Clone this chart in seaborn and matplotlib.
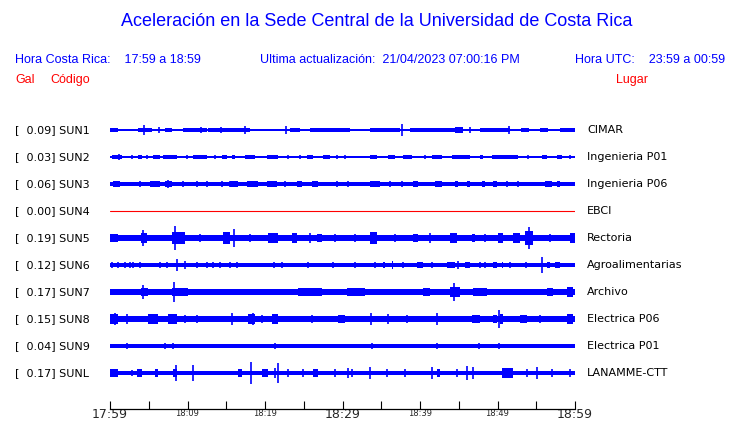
import matplotlib
matplotlib.use("Agg")
import matplotlib.pyplot as plt
import seaborn as sns

# station codes, places and peak acceleration (Gal) shown in the labels
STATIONS = ["SUN1", "SUN2", "SUN3", "SUN4", "SUN5", "SUN6", "SUN7", "SUN8", "SUN9", "SUNL"]
PLACES = ["CIMAR", "Ingenieria P01", "Ingenieria P06", "EBCI", "Rectoria",
          "Agroalimentarias", "Archivo", "Electrica P06", "Electrica P01", "LANAMME-CTT"]
PEAK_GAL = [0.09, 0.03, 0.06, 0.00, 0.19, 0.12, 0.17, 0.15, 0.04, 0.17]

# background noise level of each trace (Gal)
BASE_GAL = [0.016, 0.010, 0.032, 0.0, 0.052, 0.037, 0.040, 0.048, 0.030, 0.037]

# noisy stretches: (start minute, end minute, amplitude Gal)
SUN1_BURSTS = [(0.0, 1.0, 0.03), (3.6, 5.4, 0.035), (7.1, 8.0, 0.03), (9.4, 12.5, 0.03),
               (12.6, 16.8, 0.028), (16.8, 18.1, 0.035), (23.2, 24.5, 0.03), (25.8, 31.0, 0.028),
               (33.5, 37.4, 0.03), (38.7, 44.5, 0.028), (44.5, 45.5, 0.045), (47.7, 51.6, 0.025),
               (53.0, 54.0, 0.025), (55.5, 56.5, 0.025), (58.0, 60.0, 0.025)]
SUN2_BURSTS = [(0.3, 1.5, 0.028), (3.6, 4.1, 0.028), (5.5, 6.5, 0.028), (6.8, 8.6, 0.028),
               (10.7, 12.5, 0.028), (14.5, 15.1, 0.028), (15.7, 16.1, 0.028), (17.4, 18.7, 0.028),
               (20.3, 21.7, 0.028), (25.4, 26.2, 0.028), (27.5, 28.4, 0.028), (33.5, 34.5, 0.028),
               (35.9, 36.8, 0.028), (37.8, 39.0, 0.028), (41.5, 42.8, 0.028), (44.1, 46.5, 0.028),
               (47.7, 48.1, 0.028), (49.3, 52.6, 0.028), (55.7, 56.4, 0.028), (57.7, 58.3, 0.028)]
SUN3_BURSTS = [(0.4, 1.3, 0.045), (5.2, 6.5, 0.045), (7.1, 8.0, 0.045), (15.5, 16.5, 0.045),
               (17.7, 19.1, 0.045), (20.3, 21.5, 0.045), (24.1, 24.8, 0.045), (26.1, 26.8, 0.045),
               (33.5, 34.8, 0.045), (39.1, 39.7, 0.045), (41.9, 42.8, 0.05), (44.5, 44.9, 0.045),
               (46.1, 46.5, 0.045), (48.0, 48.4, 0.045), (49.4, 49.9, 0.045), (56.1, 57.0, 0.045),
               (57.7, 58.1, 0.045)]
SUN4_BURSTS = []
SUN5_BURSTS = [(0.0, 1.0, 0.065), (4.0, 4.8, 0.08), (8.0, 9.7, 0.095), (14.6, 15.5, 0.095),
               (20.4, 21.7, 0.08), (23.5, 24.1, 0.08), (26.7, 27.4, 0.07), (33.5, 34.5, 0.095),
               (39.1, 39.7, 0.07), (43.9, 44.8, 0.08), (46.7, 47.1, 0.065), (50.1, 50.7, 0.08),
               (52.0, 52.9, 0.08), (53.5, 54.6, 0.11), (59.4, 60.0, 0.08)]
SUN6_BURSTS = [(35.2, 35.5, 0.05), (36.4, 36.5, 0.06), (39.6, 40.4, 0.05), (43.5, 44.5, 0.05),
               (45.8, 46.5, 0.05), (49.4, 49.9, 0.05), (50.6, 50.7, 0.05), (56.4, 56.8, 0.05),
               (57.4, 58.1, 0.05)]
SUN7_BURSTS = [(0.0, 3.6, 0.05), (4.0, 4.9, 0.07), (5.8, 8.0, 0.055), (8.0, 10.1, 0.07),
               (11.9, 13.5, 0.055), (17.4, 20.9, 0.055), (24.3, 27.4, 0.06), (30.6, 32.9, 0.06),
               (33.5, 38.3, 0.055), (40.4, 41.3, 0.06), (42.2, 43.5, 0.055), (43.9, 45.2, 0.085),
               (46.8, 48.6, 0.06), (50.3, 52.5, 0.055), (56.4, 57.2, 0.06), (59.0, 59.7, 0.075)]
SUN8_BURSTS = [(0.0, 1.0, 0.08), (4.9, 6.2, 0.08), (7.5, 8.6, 0.085), (17.8, 18.7, 0.085),
               (20.9, 21.7, 0.08), (29.4, 30.3, 0.07), (46.7, 47.7, 0.07), (49.4, 49.9, 0.07),
               (50.3, 50.7, 0.08), (52.9, 53.8, 0.07), (59.0, 59.7, 0.08)]
SUN9_BURSTS = []
SUNL_BURSTS = [(0.0, 1.0, 0.06), (3.5, 4.1, 0.065), (5.8, 6.2, 0.07), (8.1, 8.6, 0.07),
               (16.5, 17.0, 0.065), (19.6, 20.4, 0.065), (26.2, 26.8, 0.07), (42.2, 42.6, 0.065),
               (50.6, 52.0, 0.08)]

# single spikes: (minute, amplitude Gal)
SUN1_SPIKES = [(4.4, 0.075), (6.3, 0.045), (11.7, 0.055), (14.3, 0.045), (17.4, 0.06),
               (22.7, 0.065), (37.7, 0.09), (45.3, 0.05), (46.5, 0.04), (51.5, 0.06)]
SUN2_SPIKES = [(1.2, 0.04), (2.8, 0.025), (4.8, 0.025), (9.9, 0.025), (13.5, 0.025),
               (23.0, 0.025), (24.5, 0.025), (29.3, 0.025), (30.3, 0.025), (40.6, 0.025),
               (53.9, 0.025), (59.4, 0.025)]
SUN3_SPIKES = [(3.9, 0.045), (9.4, 0.045), (11.2, 0.045), (12.5, 0.045), (14.5, 0.045),
               (22.6, 0.045), (29.3, 0.045), (30.7, 0.045), (36.1, 0.045), (37.7, 0.045),
               (51.2, 0.045), (52.6, 0.045), (7.5, 0.06), (20.9, 0.055), (15.5, 0.05),
               (49.7, 0.055), (42.6, 0.05)]
SUN4_SPIKES = []
SUN5_SPIKES = [(4.2, 0.13), (8.4, 0.19), (16.0, 0.14), (29.0, 0.065), (33.9, 0.10), (54.1, 0.18),
               (11.6, 0.07), (18.1, 0.07), (25.8, 0.075), (31.6, 0.07), (36.8, 0.07),
               (41.3, 0.075), (48.4, 0.07), (56.8, 0.07)]
SUN6_SPIKES = [(0.3, 0.05), (1.0, 0.05), (1.9, 0.05), (2.6, 0.05), (3.0, 0.05), (3.9, 0.05),
               (6.5, 0.05), (7.4, 0.05), (11.2, 0.05), (12.5, 0.05), (13.3, 0.05), (14.2, 0.05),
               (15.5, 0.055), (16.4, 0.055), (21.2, 0.05), (22.2, 0.05), (25.5, 0.05), (28.8, 0.05),
               (31.6, 0.05), (34.2, 0.05), (37.8, 0.05), (41.5, 0.05), (44.9, 0.06), (47.7, 0.05),
               (48.4, 0.05), (51.6, 0.05), (53.7, 0.05), (8.7, 0.10), (9.7, 0.07), (55.7, 0.125)]
SUN7_SPIKES = [(4.3, 0.105), (8.3, 0.16), (44.4, 0.14), (29.0, 0.055)]
SUN8_SPIKES = [(0.6, 0.088), (2.2, 0.08), (9.7, 0.07), (11.2, 0.07), (15.7, 0.088),
               (18.5, 0.095), (19.6, 0.07), (26.1, 0.07), (33.7, 0.088), (35.9, 0.075),
               (38.3, 0.07), (42.2, 0.095), (50.2, 0.15), (55.5, 0.07)]
SUN9_SPIKES = [(2.2, 0.045), (7.1, 0.04), (8.1, 0.045), (21.3, 0.045), (33.8, 0.045),
               (42.2, 0.045), (47.6, 0.04), (50.2, 0.055)]
SUNL_SPIKES = [(0.3, 0.065), (2.8, 0.055), (8.5, 0.12), (10.7, 0.13), (18.2, 0.17), (21.3, 0.08),
               (21.7, 0.165), (23.0, 0.06), (24.9, 0.07), (29.0, 0.06), (30.7, 0.08), (31.2, 0.06),
               (33.5, 0.095), (35.7, 0.06), (38.1, 0.06), (41.5, 0.088), (44.8, 0.07),
               (46.1, 0.11), (46.8, 0.088), (53.8, 0.06), (55.1, 0.088), (57.0, 0.06),
               (59.4, 0.07)]

BURSTS = [SUN1_BURSTS, SUN2_BURSTS, SUN3_BURSTS, SUN4_BURSTS, SUN5_BURSTS,
          SUN6_BURSTS, SUN7_BURSTS, SUN8_BURSTS, SUN9_BURSTS, SUNL_BURSTS]
SPIKES = [SUN1_SPIKES, SUN2_SPIKES, SUN3_SPIKES, SUN4_SPIKES, SUN5_SPIKES,
          SUN6_SPIKES, SUN7_SPIKES, SUN8_SPIKES, SUN9_SPIKES, SUNL_SPIKES]

TICK_MIN = [0, 10, 20, 30, 40, 50, 60]
TICK_LABELS = ["17:59", "18:09", "18:19", "18:29", "18:39", "18:49", "18:59"]
BIG_LABELS = ["17:59", "18:29", "18:59"]

PX_PER_GAL = 63
BLUE = "#0000ff"
RED = "#ff0000"


def DrawTraces(ax):
    for i, code in enumerate(STATIONS):
        y0 = 130 + 27 * i
        if PEAK_GAL[i] == 0:
            ax.plot([0, 60], [y0, y0], color=RED, lw=0.8)
            continue
        b = BASE_GAL[i] * PX_PER_GAL
        ax.fill_between([0, 60], y0 - b, y0 + b, color=BLUE, lw=0)
        for s, e, a in BURSTS[i]:
            a = a * PX_PER_GAL
            ax.fill_between([s, e], y0 - a, y0 + a, color=BLUE, lw=0)
        for m, a in SPIKES[i]:
            a = a * PX_PER_GAL
            ax.vlines(m, y0 - a, y0 + a, color=BLUE, lw=1.2)


def main():
    sns.set_theme(style="white")
    plt.rcParams['font.family'] = ['DejaVu Sans']

    fig = plt.figure(figsize=(7.4, 4.23), dpi=100)
    W, H = 740, 423
    ax = fig.add_axes([110 / W, (H - 408.5) / H, 465 / W, 298.5 / H])
    DrawTraces(ax)

    ax.set_xlim(0, 60)
    ax.set_ylim(408.5, 110)
    for s in ["top", "left", "right"]:
        ax.spines[s].set_visible(False)
    ax.spines["bottom"].set_color("black")
    ax.spines["bottom"].set_linewidth(0.9)
    ax.set_yticks([])
    ticks = list(range(0, 61, 5))
    ax.set_xticks(ticks)
    ax.set_xticklabels([TICK_LABELS[TICK_MIN.index(m)] if m in TICK_MIN else "" for m in ticks])
    ax.tick_params(axis="x", bottom=True, direction="in", length=5.6, width=0.8,
                   color="black", pad=-0.5)
    for lab in ax.get_xticklabels():
        if lab.get_text() in BIG_LABELS:
            lab.set_fontsize(9)
        else:
            lab.set_fontsize(6)
            lab.set_y(-0.003)

    # header
    hfont = dict(family="Liberation Sans", color=BLUE)
    fig.text(377 / W, 1 - 21 / H, "Aceleración en la Sede Central de la Universidad de Costa Rica",
             ha="center", va="center", fontsize=13, **hfont)
    fig.text(15 / W, 1 - 60 / H, "Hora Costa Rica:    17:59 a 18:59", ha="left", va="center", fontsize=9, **hfont)
    fig.text(260 / W, 1 - 60 / H, "Ultima actualización:  21/04/2023 07:00:16 PM", ha="left", va="center",
             fontsize=9, **hfont)
    fig.text(725 / W, 1 - 60 / H, "Hora UTC:    23:59 a 00:59", ha="right", va="center", fontsize=9, **hfont)
    rfont = dict(family="Liberation Sans", color=RED, fontsize=9, va="center")
    fig.text(15 / W, 1 - 80 / H, "Gal", ha="left", **rfont)
    fig.text(50 / W, 1 - 80 / H, "Código", ha="left", **rfont)
    fig.text(648 / W, 1 - 80 / H, "Lugar", ha="right", **rfont)

    # station labels
    for i, code in enumerate(STATIONS):
        yy = 1 - (130 + 27 * i) / H
        fig.text(15 / W, yy, "[  %.2f] %s" % (PEAK_GAL[i], code), ha="left", va="center",
                 fontsize=8, color="black")
        fig.text(587 / W, yy, PLACES[i], ha="left", va="center", fontsize=8, color="black")

    fig.savefig("out.png", dpi=100)


if __name__ == "__main__":
    main()
